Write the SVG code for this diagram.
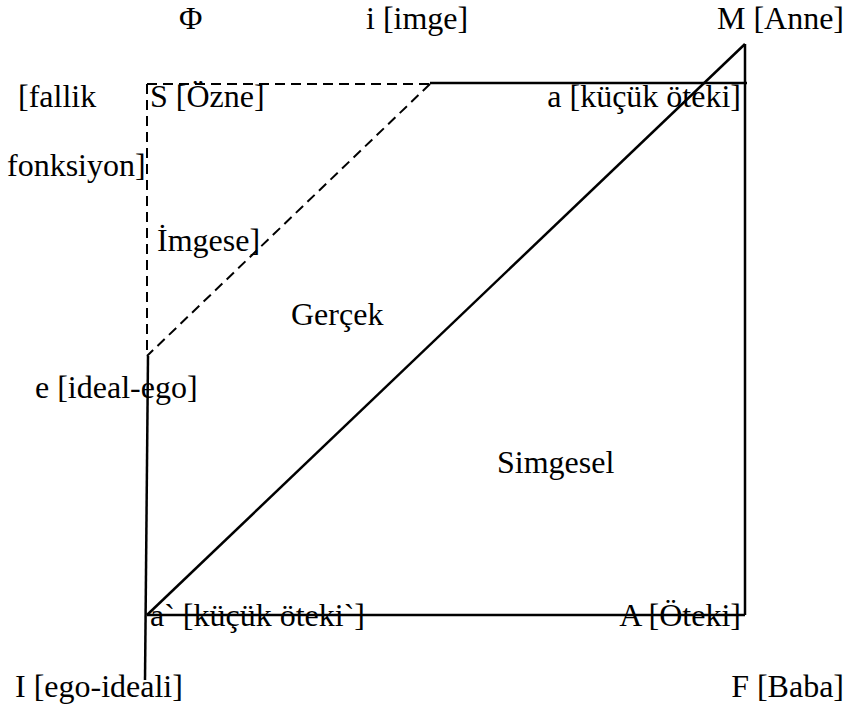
<svg xmlns="http://www.w3.org/2000/svg" width="846" height="705" viewBox="0 0 846 705">
<style>
text{font-family:"Liberation Serif","Times New Roman",serif;font-size:32px;fill:#000}
.s{stroke:#000;stroke-width:2.5;fill:none}
.d{stroke:#000;stroke-width:2;fill:none;stroke-dasharray:10 6}
</style>
<rect width="846" height="705" fill="#fff"/>
<g id="connectors">
<line class="d" x1="147" y1="84" x2="430" y2="84"/>
<line class="s" x1="430" y1="83" x2="747" y2="83"/>
<line class="d" x1="147" y1="84" x2="147" y2="356"/>
<line class="d" x1="430" y1="84" x2="147" y2="356"/>
<line class="s" x1="148" y1="356" x2="145" y2="680"/>
<line class="s" x1="745" y1="44" x2="745" y2="615"/>
<line class="s" x1="147" y1="615" x2="745" y2="615"/>
<line class="s" x1="147" y1="615" x2="745" y2="44"/>
</g>
<g id="phi"><text x="179" y="29">Φ</text></g>
<g id="imge"><text x="366" y="29">i [imge]</text></g>
<g id="anne"><text x="844" y="29" text-anchor="end">M [Anne]</text></g>
<g id="fallik"><text x="18" y="107">[fallik</text><text x="7" y="176">fonksiyon]</text></g>
<g id="ozne"><text x="150" y="107">S [Özne]</text></g>
<g id="kucuk-oteki"><text x="741" y="107" text-anchor="end">a [küçük öteki]</text></g>
<g id="imgesel"><text x="157" y="251">İmgese]</text></g>
<g id="gercek"><text x="291" y="325">Gerçek</text></g>
<g id="ideal-ego"><text x="35" y="398">e [ideal-ego]</text></g>
<g id="simgesel"><text x="497" y="473">Simgesel</text></g>
<g id="kucuk-oteki2"><text x="150" y="626">a` [küçük öteki`]</text></g>
<g id="oteki"><text x="741" y="626" text-anchor="end">A [Öteki]</text></g>
<g id="ego-ideali"><text x="15" y="697">I [ego-ideali]</text></g>
<g id="baba"><text x="844" y="697" text-anchor="end">F [Baba]</text></g>
</svg>
